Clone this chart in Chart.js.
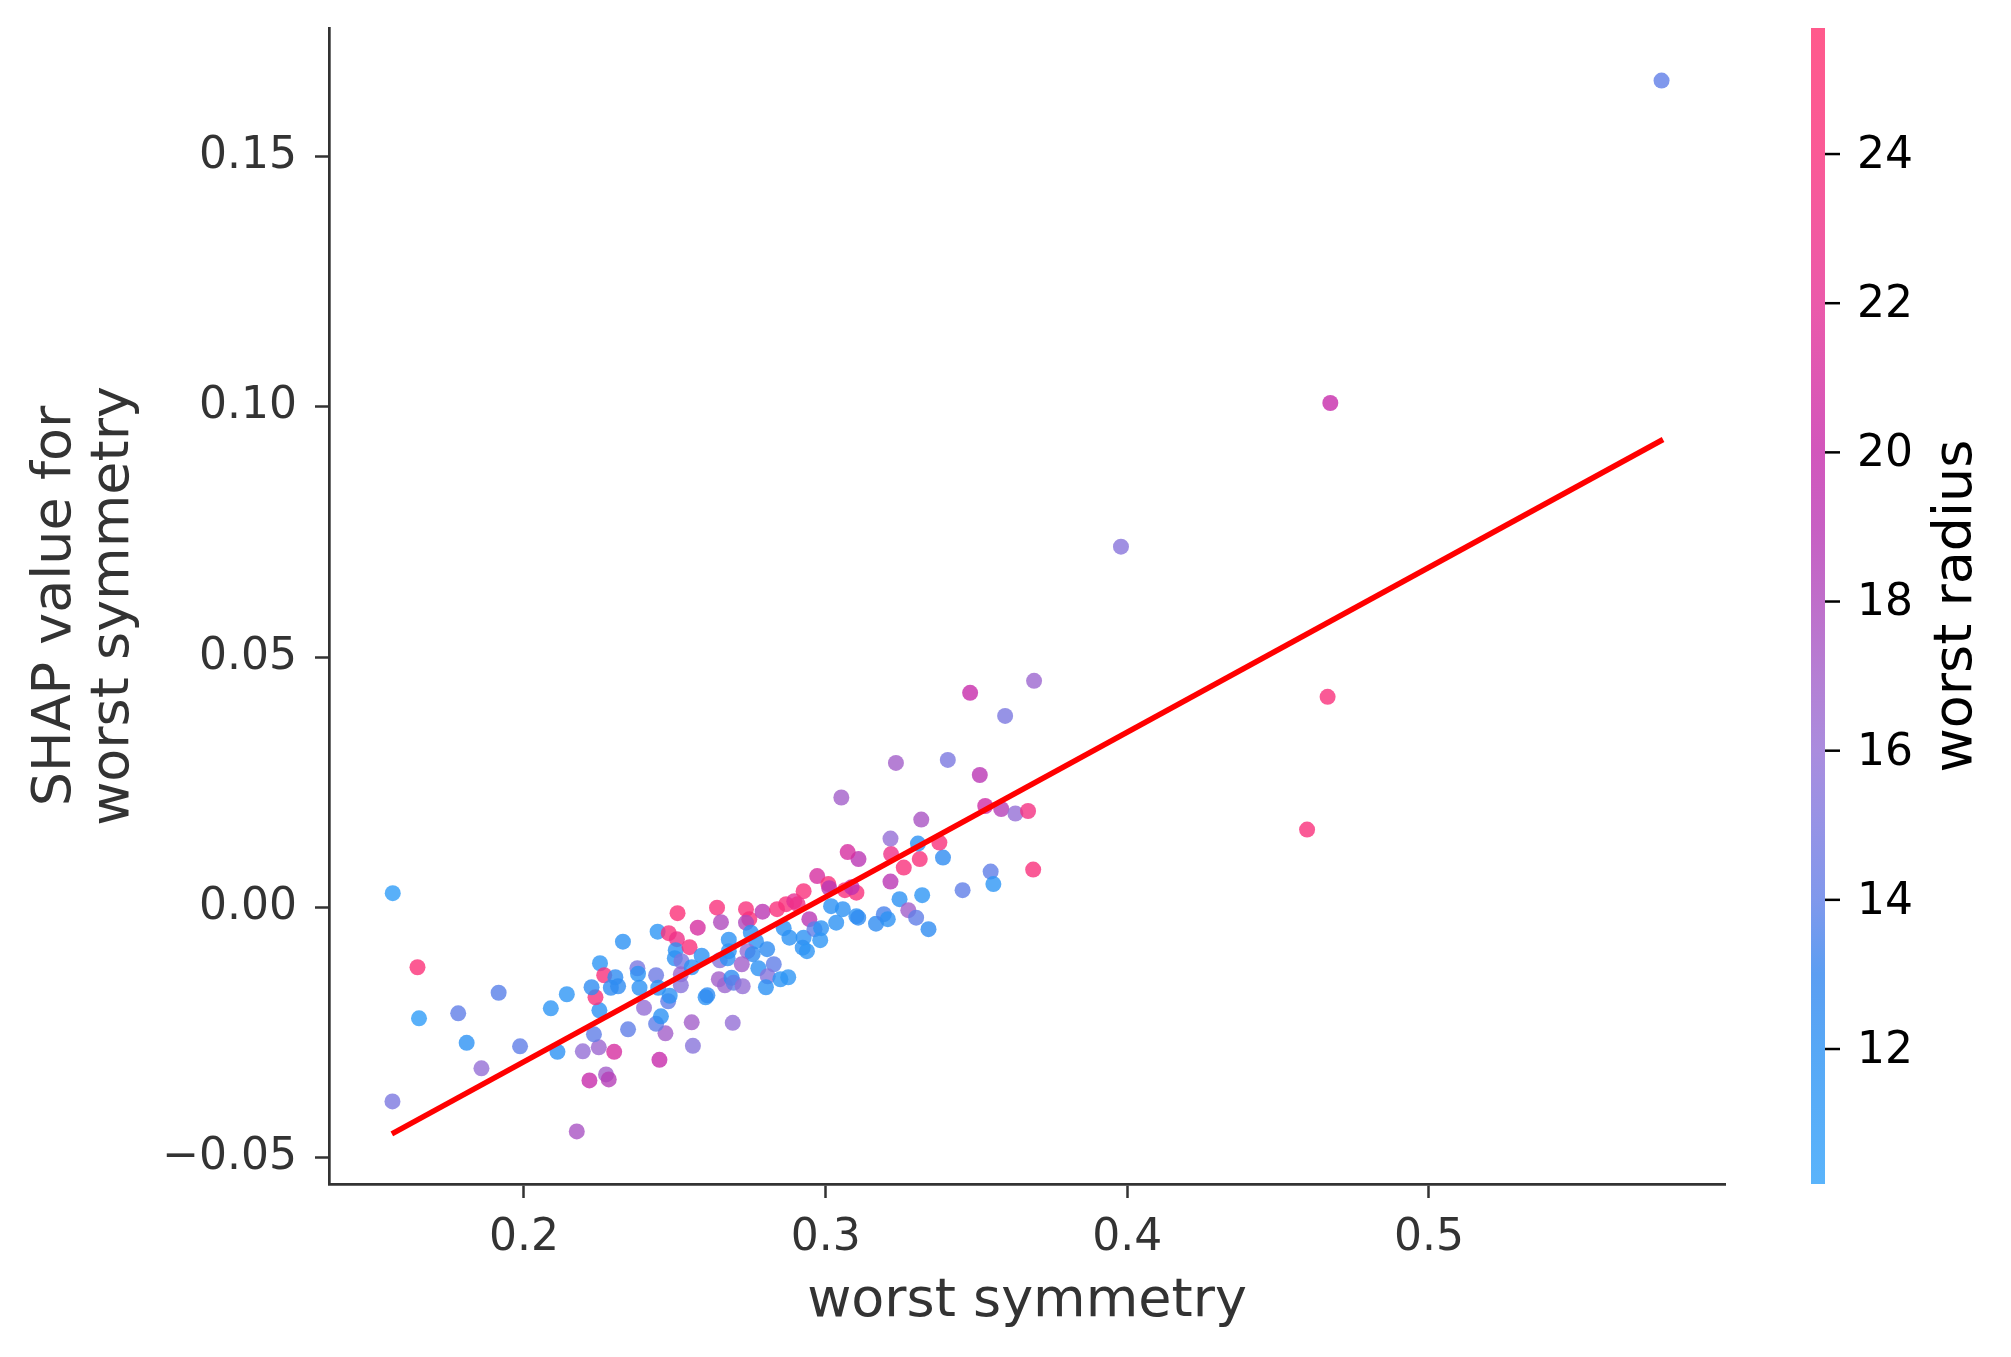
<!DOCTYPE html>
<html>
<head>
<meta charset="utf-8">
<title>SHAP dependence plot - worst symmetry</title>
<script src="https://cdn.jsdelivr.net/npm/chart.js@4.4.1/dist/chart.umd.min.js"></script>
<style>
  html, body { margin: 0; padding: 0; background: #ffffff; }
  #wrap { width: 2011px; height: 1357px; }
</style>
</head>
<body>
<div id="wrap"><canvas id="chart"></canvas></div>
<script>
"use strict";

// feature value (x), SHAP value (y) and colouring feature, one entry per sample
const symmetry = [
  0.1565, 0.1647, 0.1652, 0.1782, 0.1916, 0.1810, 0.1859, 0.1564, 0.1987, 0.2089,
  0.2142, 0.2111, 0.2175, 0.2217, 0.2195, 0.2248, 0.2272, 0.2281, 0.2299, 0.2232,
  0.2250, 0.2237, 0.2224, 0.2252, 0.2266, 0.2303, 0.2288, 0.2312, 0.2328, 0.2345,
  0.2376, 0.2378, 0.2383, 0.2398, 0.2438, 0.2443, 0.2449, 0.2469, 0.2438, 0.2454,
  0.2478, 0.2483, 0.2445, 0.2480, 0.2509, 0.2507, 0.2503, 0.2500, 0.2522, 0.2520,
  0.2520, 0.2549, 0.2556, 0.2576, 0.2589, 0.2602, 0.2608, 0.2556, 0.2560, 0.2640,
  0.2653, 0.2679, 0.2649, 0.2679, 0.2675, 0.2736, 0.2747, 0.2736, 0.2791, 0.2752,
  0.2769, 0.2806, 0.2741, 0.2758, 0.2722, 0.2777, 0.2828, 0.2808, 0.2802, 0.2850,
  0.2876, 0.2646, 0.2666, 0.2688, 0.2695, 0.2725, 0.2839, 0.2869, 0.2896, 0.2927,
  0.2907, 0.2946, 0.2972, 0.3009, 0.3012, 0.3109, 0.3064, 0.3102, 0.2861, 0.2880,
  0.2927, 0.2924, 0.2938, 0.2963, 0.2985, 0.2982, 0.3018, 0.3035, 0.3057, 0.3102,
  0.3108, 0.3167, 0.3193, 0.3206, 0.3245, 0.3215, 0.3259, 0.3217, 0.3312, 0.3274,
  0.3300, 0.3320, 0.3341, 0.3389, 0.2692, 0.3691, 0.3479, 0.3595, 0.3233, 0.3405,
  0.3511, 0.3052, 0.3529, 0.3582, 0.3629, 0.3671, 0.3317, 0.3215, 0.3306, 0.3377,
  0.3073, 0.3547, 0.3556, 0.3454, 0.3688, 0.3086, 0.5771, 0.4673, 0.3979, 0.4664,
  0.4596
];
const shapValues = [
  0.0029, -0.0119, -0.0221, -0.0211, -0.0170, -0.0270, -0.0321, -0.0387, -0.0277, -0.0201,
  -0.0173, -0.0288, -0.0447, -0.0345, -0.0287, -0.0279, -0.0333, -0.0343, -0.0288, -0.0253,
  -0.0205, -0.0179, -0.0159, -0.0111, -0.0135, -0.0139, -0.0160, -0.0157, -0.0068, -0.0243,
  -0.0121, -0.0132, -0.0160, -0.0200, -0.0135, -0.0048, -0.0304, -0.0251, -0.0232, -0.0217,
  -0.0187, -0.0176, -0.0160, -0.0051, -0.0011, -0.0063, -0.0085, -0.0101, -0.0107, -0.0133,
  -0.0155, -0.0079, -0.0119, -0.0040, -0.0096, -0.0179, -0.0175, -0.0229, -0.0276, 0.0000,
  -0.0029, -0.0064, -0.0105, -0.0087, -0.0101, -0.0003, -0.0023, -0.0030, -0.0008, -0.0050,
  -0.0067, -0.0083, -0.0087, -0.0093, -0.0113, -0.0121, -0.0113, -0.0137, -0.0159, -0.0143,
  -0.0139, -0.0143, -0.0155, -0.0140, -0.0150, -0.0157, -0.0003, 0.0007, 0.0013, 0.0033,
  0.0007, -0.0023, 0.0063, 0.0047, 0.0039, 0.0097, 0.0035, 0.0030, -0.0041, -0.0060,
  -0.0060, -0.0080, -0.0087, -0.0043, -0.0041, -0.0065, 0.0003, -0.0030, -0.0003, -0.0017,
  -0.0020, -0.0032, -0.0013, -0.0023, 0.0017, 0.0052, 0.0080, 0.0107, 0.0097, -0.0005,
  -0.0020, 0.0025, -0.0043, 0.0100, -0.0230, 0.0453, 0.0429, 0.0383, 0.0289, 0.0295,
  0.0265, 0.0220, 0.0203, 0.0197, 0.0188, 0.0193, 0.0176, 0.0138, 0.0128, 0.0130,
  0.0111, 0.0072, 0.0047, 0.0035, 0.0076, 0.0041, 0.1652, 0.1008, 0.0721, 0.0421,
  0.0156
];
const worstRadius = [
  10.8, 24.5, 10.8, 14, 13.8, 12, 16, 15, 14, 11.5,
  11.5, 12, 17.5, 20, 16, 16.5, 17, 18.5, 21, 14,
  12, 24, 12.5, 11.5, 24, 12.5, 12.5, 12.5, 12, 14,
  15, 12, 12, 16, 14.5, 11.5, 20, 17, 14, 12,
  14, 12, 12, 24, 24.5, 23, 12, 12, 15, 16.5,
  15.5, 24, 12, 21, 12, 12, 12.5, 17, 15.5, 24,
  18, 12, 15.5, 12, 12, 24, 24, 18, 19, 12,
  12, 12.5, 16, 12.5, 17, 12, 14, 15.5, 12, 11.5,
  11.5, 17, 16.5, 12.5, 14, 16, 24, 24, 22, 24,
  23, 19, 21, 24, 19, 19, 24, 24, 12, 12,
  12, 12, 11.5, 14, 12, 11.5, 12, 12, 12, 12,
  12.5, 12.5, 13.5, 12, 12, 19, 24, 23, 24, 17,
  14, 11.5, 12.5, 12.5, 16, 16.5, 20, 15, 17, 15,
  19, 17, 20.5, 18.5, 16, 23.5, 17.5, 16, 12, 24,
  21, 14, 11.5, 14, 24, 19.5, 14, 20, 15.5, 24,
  24
];

// red trend line end points
const fitX = [0.1562, 0.5776];
const fitY = [-0.0452, 0.0935];

const xTicks = [0.2, 0.3, 0.4, 0.5];
const yTicks = [-0.05, 0, 0.05, 0.10, 0.15];
const radiusTicks = [12, 14, 16, 18, 20, 22, 24];
const radiusMin = 10.19;
const radiusMax = 25.69;

// red_blue colour map, as it shows on the colour bar
const cmap = [
  [10.19, [90, 180, 251]],
  [12, [87, 168, 246]],
  [13, [92, 158, 242]],
  [14, [128, 152, 236]],
  [15, [150, 147, 230]],
  [16, [170, 140, 222]],
  [17, [181, 127, 212]],
  [18, [191, 110, 202]],
  [19, [200, 95, 195]],
  [20, [210, 86, 188]],
  [22, [235, 90, 170]],
  [24, [250, 90, 150]],
  [25.69, [255, 90, 140]],
];
const pointAlpha = 0.8;
const axisColor = "#333333";
const fontFamily = "'DejaVu Sans', sans-serif";

function cmapColor(v) {
  if (v <= cmap[0][0]) return cmap[0][1];
  for (let i = 1; i < cmap.length; i++) {
    const [v1, c1] = cmap[i];
    const [v0, c0] = cmap[i - 1];
    if (v <= v1) {
      const t = (v - v0) / (v1 - v0);
      return c0.map((c, k) => c + (c1[k] - c) * t);
    }
  }
  return cmap[cmap.length - 1][1];
}

// undo the white blending so a lone point looks like the colour bar
function pointColor(v) {
  const c = cmapColor(v).map((ch) =>
    Math.max(0, Math.min(255, Math.round(255 - (255 - ch) / pointAlpha)))
  );
  return `rgba(${c[0]}, ${c[1]}, ${c[2]}, ${pointAlpha})`;
}

function margin(values, frac) {
  const lo = Math.min(...values);
  const hi = Math.max(...values);
  const pad = (hi - lo) * frac;
  return [lo - pad, hi + pad];
}

const [xMin, xMax] = margin(symmetry, 0.05);
const [yMin, yMax] = margin(shapValues, 0.05);

const points = symmetry.map((x, i) => ({ x: x, y: shapValues[i] }));
const colors = worstRadius.map(pointColor);
const linePoints = fitX.map((x, i) => ({ x: x, y: fitY[i] }));

const colorbar = {
  id: "colorbar",
  afterDraw(chart) {
    const sc = chart.scales.cb;
    const ctx = chart.ctx;
    const left = chart.chartArea.right + 86;
    const w = 14;
    const top = sc.getPixelForValue(radiusMax);
    const bottom = sc.getPixelForValue(radiusMin);
    const grad = ctx.createLinearGradient(0, bottom, 0, top);
    cmap.forEach(([v, c]) => {
      grad.addColorStop((v - radiusMin) / (radiusMax - radiusMin), `rgb(${c[0]}, ${c[1]}, ${c[2]})`);
    });
    ctx.save();
    ctx.fillStyle = grad;
    ctx.fillRect(left, top, w, bottom - top);

    ctx.strokeStyle = "#000000";
    ctx.lineWidth = 2.5;
    ctx.fillStyle = "#000000";
    ctx.font = `44px ${fontFamily}`;
    ctx.textBaseline = "middle";
    ctx.textAlign = "left";
    radiusTicks.forEach((t) => {
      const y = sc.getPixelForValue(t);
      ctx.beginPath();
      ctx.moveTo(left + w, y);
      ctx.lineTo(left + w + 15, y);
      ctx.stroke();
      ctx.fillText(String(t), left + w + 32, y + 2.5);
    });

    ctx.translate(left + 146, (top + bottom) / 2);
    ctx.rotate(-Math.PI / 2);
    ctx.textAlign = "center";
    ctx.font = `54px ${fontFamily}`;
    ctx.fillText("worst radius", 0, 0);
    ctx.restore();
  },
};

const tickFont = { family: fontFamily, size: 44 };

const myChart = new Chart(document.getElementById("chart"), {
  type: "scatter",
  data: {
    datasets: [
      {
        type: "line",
        data: linePoints,
        borderColor: "#ff0000",
        borderWidth: 5.5,
        pointRadius: 0,
        fill: false,
        order: 0,
        xAxisID: "x",
        yAxisID: "y",
      },
      {
        data: points,
        backgroundColor: colors,
        pointRadius: 8,
        pointHoverRadius: 8,
        borderWidth: 0,
        order: 1,
        xAxisID: "x",
        yAxisID: "y",
      },
    ],
  },
  plugins: [colorbar],
  options: {
    responsive: true,
    maintainAspectRatio: false,
    animation: false,
    devicePixelRatio: 1,
    layout: { padding: { top: 28, right: 286, left: 0, bottom: 0 } },
    plugins: {
      legend: { display: false },
      tooltip: { enabled: false },
    },
    scales: {
      x: {
        type: "linear",
        position: "bottom",
        min: xMin,
        max: xMax,
        afterBuildTicks: (s) => { s.ticks = xTicks.map((v) => ({ value: v })); },
        afterFit: (s) => {
          s.height = 173;
          s.paddingLeft = 0;
          s.paddingRight = 0;
        },
        ticks: {
          color: axisColor,
          font: tickFont,
          padding: 14,
          maxRotation: 0,
          callback: (v) => v.toFixed(1),
        },
        grid: {
          drawOnChartArea: false,
          drawTicks: true,
          tickLength: 14,
          tickWidth: 2.5,
          tickColor: axisColor,
        },
        border: { display: true, color: axisColor, width: 2.7 },
        title: {
          display: true,
          text: "worst symmetry",
          color: axisColor,
          font: { family: fontFamily, size: 54, lineHeight: 1.1 },
          padding: { top: 0, bottom: 25.5 },
        },
      },
      y: {
        type: "linear",
        position: "left",
        min: yMin,
        max: yMax,
        afterBuildTicks: (s) => { s.ticks = yTicks.map((v) => ({ value: v })); },
        afterFit: (s) => {
          s.width = 329;
          s.paddingTop = 0;
          s.paddingBottom = 0;
        },
        ticks: {
          color: axisColor,
          font: tickFont,
          padding: 18,
          callback: (v) => (Math.abs(v) < 1e-9 ? 0 : v).toFixed(2).replace("-", "\u2212"),
        },
        grid: {
          drawOnChartArea: false,
          drawTicks: true,
          tickLength: 14,
          tickWidth: 2.5,
          tickColor: axisColor,
        },
        border: { display: true, color: axisColor, width: 2.7 },
        title: {
          display: true,
          text: ["SHAP value for", "worst symmetry"],
          color: axisColor,
          font: { family: fontFamily, size: 54, lineHeight: 1.08 },
          padding: { top: 26.5, bottom: 0 },
        },
      },
      cb: {
        type: "linear",
        axis: "y",
        position: "right",
        display: false,
        min: radiusMin,
        max: radiusMax,
      },
    },
  },
});
</script>
</body>
</html>
